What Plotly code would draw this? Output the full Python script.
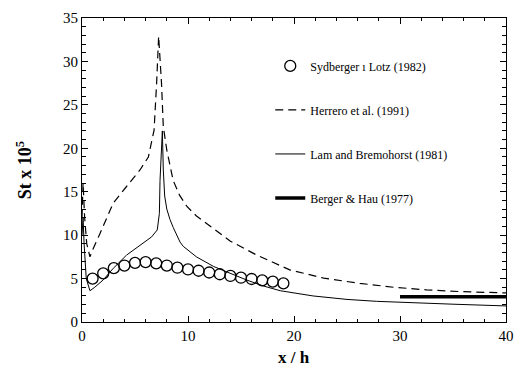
import plotly.graph_objects as go

# Sydberger & Lotz (1982) - measurements
syd_x = [1, 2, 3, 4, 5, 6, 7, 8, 9, 10, 11, 12, 13, 14, 15, 16, 17, 18, 19]
syd_y = [5.0, 5.6, 6.2, 6.5, 6.8, 6.9, 6.75, 6.5, 6.25, 6.05, 5.9, 5.7, 5.5, 5.3, 5.1, 4.95, 4.8, 4.65, 4.45]

# Herrero et al. (1991)
her_x = [0, 0.1, 0.25, 0.45, 0.75, 1.0, 1.7, 2.95, 4.2, 5.47, 6.26, 6.8, 7.04, 7.23,
         7.5, 7.67, 8.0, 8.6, 9.2, 9.9, 10.8, 11.8, 14.0, 16.5, 19.6, 22.8, 26.2,
         29.4, 32.5, 35.7, 40]
her_y = [12, 16, 12, 9, 7.5, 8.3, 10.2, 13.7, 15.6, 17.5, 19.0, 22.1, 27.5, 32.9,
         27.5, 22.5, 19.8, 16.3, 14.6, 13.3, 12.2, 11.3, 9.3, 7.7, 6.0, 5.05, 4.45,
         4.0, 3.7, 3.5, 3.35]

# Lam and Bremhorst (1981)
lam_x = [0, 0.1, 0.2, 0.4, 0.75, 1.2, 2.0, 2.95, 4.2, 5.47, 6.57, 7.1, 7.3, 7.36,
         7.5, 7.58, 7.67, 7.8, 8.0, 8.3, 8.6, 9.25, 9.56, 10.8, 12.4, 13.96, 15.5,
         17.1, 18.7, 21.8, 25.0, 27.8, 30, 35, 40]
lam_y = [10, 12, 9, 5, 3.6, 4.0, 4.84, 6.18, 7.7, 8.86, 9.8, 10.6, 12.5, 16.3,
         20.0, 22.0, 17.5, 14.5, 13.0, 11.8, 10.9, 9.2, 8.7, 7.5, 6.4, 5.6, 4.85,
         4.15, 3.6, 3.0, 2.6, 2.38, 2.3, 2.05, 1.85]

# Berger & Hau (1977)
ber_x = [30, 40]
ber_y = [2.9, 2.9]

x_ticks = [0, 10, 20, 30, 40]
y_ticks = [0, 5, 10, 15, 20, 25, 30, 35]

FONT = "Liberation Serif"

fig = go.Figure()
fig.add_trace(go.Scatter(
    x=syd_x, y=syd_y, mode="markers", name="Sydberger ı Lotz (1982)",
    legendgroup="a",
    marker=dict(symbol="circle-open", size=11, color="black", line=dict(width=1.3, color="black"))))
fig.add_trace(go.Scatter(
    x=her_x, y=her_y, mode="lines", name="Herrero et al. (1991)", legendgroup="b",
    line=dict(color="black", width=1.2, dash="8px,5px")))
fig.add_trace(go.Scatter(
    x=lam_x, y=lam_y, mode="lines", name="Lam and Bremohorst (1981)", legendgroup="c",
    line=dict(color="black", width=1)))
fig.add_trace(go.Scatter(
    x=ber_x, y=ber_y, mode="lines", name="Berger & Hau (1977)", legendgroup="d",
    line=dict(color="black", width=3.5)))

axis_common = dict(
    showgrid=False, zeroline=False, showline=True, linecolor="black", linewidth=1.2,
    mirror="ticks", ticks="inside", tickcolor="black", automargin=False,
    tickfont=dict(family=FONT, size=15, color="black"),
)

fig.update_xaxes(
    range=[0, 40], tickvals=x_ticks, ticklen=6, tickwidth=1,
    minor=dict(dtick=2, ticks="inside", ticklen=3, tickcolor="black", tickwidth=1),
    **axis_common)
fig.update_yaxes(
    range=[0, 35], tickvals=y_ticks, ticklen=6, tickwidth=1,
    minor=dict(dtick=1, ticks="inside", ticklen=4, tickcolor="black", tickwidth=1),
    title=dict(text="<b>St x 10<sup>5</sup></b>", font=dict(family=FONT, size=18, color="black"), standoff=26),
    **axis_common)

fig.add_annotation(
    text="<b>x / h</b>", xref="paper", yref="paper", x=0.5, y=0,
    xanchor="center", yanchor="middle", yshift=-35, showarrow=False, borderpad=0,
    font=dict(family=FONT, size=17, color="black"))

fig.update_layout(
    width=514, height=367,
    margin=dict(l=82, r=8, t=18, b=45),
    paper_bgcolor="white", plot_bgcolor="white",
    font=dict(family=FONT, color="black"),
    showlegend=True,
    legend=dict(
        x=0.444, y=0.89, xanchor="left", yanchor="top",
        traceorder="grouped", tracegroupgap=25,
        font=dict(family=FONT, size=12, color="black"),
        bgcolor="rgba(0,0,0,0)", borderwidth=0,
    ),
)

fig.write_html("out.html")
